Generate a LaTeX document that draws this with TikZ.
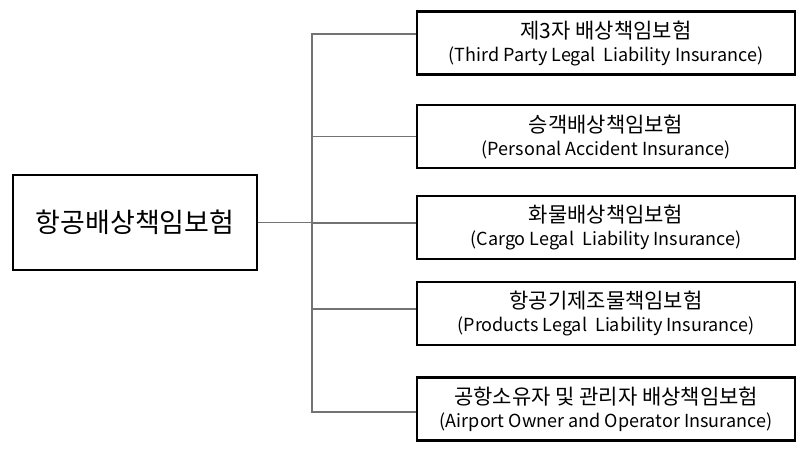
\documentclass[tikz,border=0pt]{standalone}
\usepackage{fontspec}
\setmainfont{Noto Sans CJK KR}
\newcommand{\engline}[1]{{\fontsize{18}{23}\selectfont #1}}
\begin{document}
\begin{tikzpicture}[x=1pt,y=-1pt]
    \tikzstyle{mainbox}=[draw,line width=2.8pt,minimum width=244pt,minimum height=95pt,font=\fontsize{27}{30}\selectfont]
    \tikzstyle{subbox}=[draw,line width=2.8pt,minimum width=378pt,minimum height=63pt,align=center,font=\fontsize{21}{23}\selectfont]
    \tikzstyle{link}=[draw=black!55,line width=1.4pt]
    \useasboundingbox (0,0) rectangle (805,454);
    \node[mainbox] (main) at (135,222.5){항공배상책임보험};
    \node[subbox] (s1) at (606,43){제3자 배상책임보험\\\engline{(Third Party Legal\ \ Liability Insurance)}};
    \node[subbox] (s2) at (606,136.5){승객배상책임보험\\\engline{(Personal Accident Insurance)}};
    \node[subbox] (s3) at (606,227.5){화물배상책임보험\\\engline{(Cargo Legal\ \ Liability Insurance)}};
    \node[subbox] (s4) at (606,313.5){항공기제조물책임보험\\\engline{(Products Legal\ \ Liability Insurance)}};
    \node[subbox] (s5) at (606,409){공항소유자 및 관리자 배상책임보험\\\engline{(Airport Owner and Operator Insurance)}};
    \coordinate (top) at (312,34);
    \coordinate (bot) at (312,412);
    \draw[link] (main.east) -- (main.east -| top);
    \draw[link] ([yshift=9pt]s1.west) -- (top) -- (bot) -- ([yshift=-3pt]s5.west);
    \draw[link] (s2.west) -- (s2.west -| top);
    \draw[link] ([yshift=4.5pt]s3.west) -- ([yshift=4.5pt]s3.west -| top);
    \draw[link] ([yshift=4.5pt]s4.west) -- ([yshift=4.5pt]s4.west -| top);
  \end{tikzpicture}
\end{document}
